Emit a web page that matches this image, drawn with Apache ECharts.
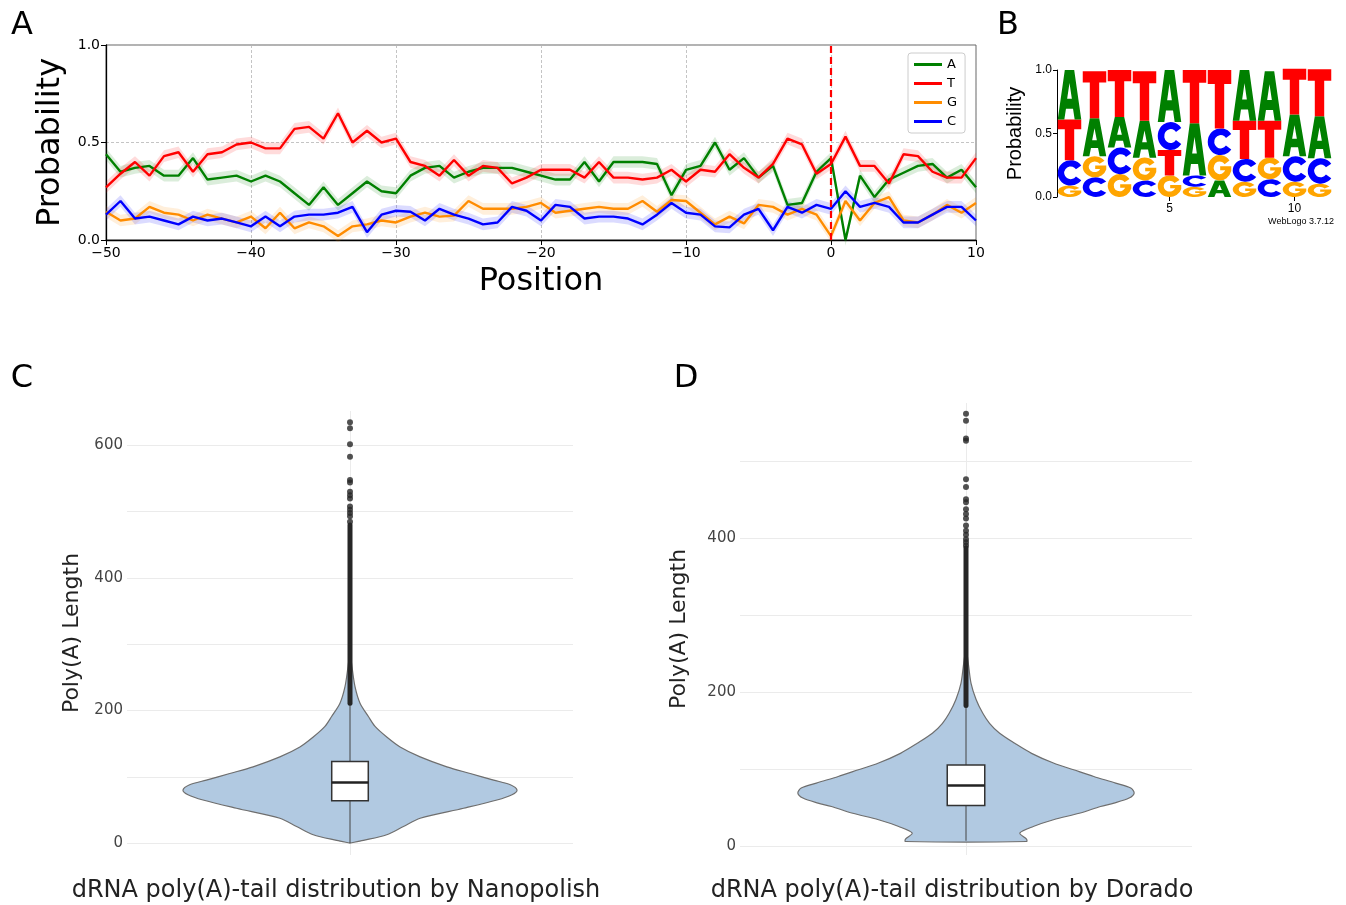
<!DOCTYPE html>
<html>
<head>
<meta charset="utf-8">
<script src="https://cdn.jsdelivr.net/npm/echarts@6/dist/echarts.min.js"></script>
<style>
html, body { margin: 0; padding: 0; background: #fff; }
#main { width: 1346px; height: 905px; }
</style>
</head>
<body>
<div id="main"></div>
<script>
// ---- panel A: per-position base probability (-50 .. 10) ----
var positions = [];
for (var p = -50; p <= 10; p++) positions.push(p);

var probA = [0.44, 0.35, 0.37, 0.38, 0.33, 0.33, 0.42, 0.31, 0.32, 0.33, 0.30, 0.33, 0.30, 0.24, 0.18, 0.27, 0.18, 0.24, 0.30, 0.25, 0.24,
             0.33, 0.37, 0.38, 0.32, 0.35, 0.37, 0.37, 0.37, 0.35, 0.33, 0.31, 0.31, 0.40, 0.30, 0.40, 0.40, 0.40, 0.39, 0.23, 0.36,
             0.38, 0.50, 0.36, 0.42, 0.32, 0.38, 0.18, 0.19, 0.35, 0.42, 0.00, 0.33, 0.22, 0.31, 0.345, 0.38, 0.39, 0.32, 0.36, 0.27];
var probT = [0.27, 0.34, 0.40, 0.33, 0.43, 0.45, 0.35, 0.44, 0.45, 0.49, 0.50, 0.47, 0.47, 0.57, 0.58, 0.52, 0.65, 0.50, 0.56, 0.50, 0.52,
             0.40, 0.38, 0.33, 0.41, 0.33, 0.38, 0.37, 0.29, 0.32, 0.36, 0.36, 0.36, 0.32, 0.40, 0.32, 0.32, 0.31, 0.32, 0.36, 0.30,
             0.36, 0.35, 0.44, 0.37, 0.32, 0.39, 0.52, 0.49, 0.34, 0.39, 0.53, 0.38, 0.38, 0.29, 0.44, 0.43, 0.35, 0.32, 0.32, 0.42];
var probG = [0.145, 0.10, 0.11, 0.17, 0.14, 0.13, 0.10, 0.13, 0.11, 0.09, 0.12, 0.06, 0.14, 0.06, 0.09, 0.07, 0.02, 0.07, 0.08, 0.10, 0.09,
             0.12, 0.14, 0.12, 0.125, 0.20, 0.16, 0.16, 0.16, 0.17, 0.19, 0.14, 0.15, 0.16, 0.17, 0.16, 0.16, 0.20, 0.145, 0.205, 0.20,
             0.14, 0.08, 0.12, 0.085, 0.18, 0.17, 0.13, 0.16, 0.13, 0.02, 0.20, 0.10, 0.19, 0.22, 0.10, 0.09, 0.13, 0.18, 0.14, 0.19];
var probC = [0.13, 0.20, 0.11, 0.12, 0.10, 0.08, 0.12, 0.10, 0.11, 0.09, 0.07, 0.12, 0.07, 0.12, 0.13, 0.13, 0.14, 0.17, 0.04, 0.13, 0.15,
             0.145, 0.10, 0.16, 0.13, 0.11, 0.08, 0.09, 0.17, 0.15, 0.10, 0.18, 0.17, 0.11, 0.12, 0.12, 0.11, 0.08, 0.13, 0.19, 0.14,
             0.13, 0.07, 0.065, 0.13, 0.16, 0.05, 0.17, 0.14, 0.18, 0.16, 0.25, 0.17, 0.19, 0.17, 0.09, 0.09, 0.13, 0.17, 0.17, 0.10];
var ciHalf = 0.03;

// ---- panel B: sequence logo ----
var logoPos = [1, 2, 3, 4, 5, 6, 7, 8, 9, 10, 11];
var logoA = [0.39, 0.30, 0.24, 0.29, 0.41, 0.41, 0.13, 0.40, 0.39, 0.33, 0.33];
var logoT = [0.32, 0.37, 0.37, 0.39, 0.20, 0.42, 0.46, 0.30, 0.29, 0.36, 0.37];
var logoG = [0.09, 0.165, 0.18, 0.18, 0.17, 0.08, 0.20, 0.12, 0.17, 0.12, 0.105];
var logoC = [0.20, 0.155, 0.21, 0.13, 0.22, 0.09, 0.21, 0.18, 0.14, 0.20, 0.20];

// ---- panels C / D: violin outlines (value, relative density) and box stats ----
var violinCValues  = [0, 4, 12.6, 25, 37.4, 52.5, 65, 73, 80, 88, 95, 105, 115, 130, 145, 160, 176, 191, 211, 236, 266, 290];
var violinCDensity = [0, 0.08, 0.22, 0.32, 0.42, 0.68, 0.88, 0.97, 1, 0.96, 0.86, 0.72, 0.58, 0.42, 0.30, 0.22, 0.15, 0.11, 0.06, 0.03, 0.012, 0];
var boxC = [0, 64, 91.5, 123, 211];          // low whisker, q1, median, q3, high whisker
var denseOutliersC = [211, 480];
var outliersC = [635, 626, 602, 583, 548, 544, 530, 525, 520, 508, 503, 498, 493, 485];

var violinDValues  = [5.5, 8.7, 16.4, 25, 33.8, 42.5, 51, 55.4, 62, 68.4, 75, 81.4, 90, 98.7, 107.4, 120, 133, 146, 159, 172, 190, 211, 233, 260];
var violinDDensity = [0.36, 0.36, 0.32, 0.40, 0.52, 0.68, 0.80, 0.88, 0.97, 1, 0.98, 0.89, 0.76, 0.64, 0.52, 0.39, 0.29, 0.20, 0.14, 0.10, 0.06, 0.03, 0.016, 0];
var boxD = [6.5, 52.4, 78.4, 105, 182];
var denseOutliersD = [182, 387];
var outliersD = [561, 552, 529, 526, 476, 466, 450, 446, 437, 431, 425, 416, 409, 404, 398, 394, 390];

var baseColors = { A: '#008000', T: '#ff0000', G: '#ff8c00', C: '#0000ff' };
var logoColors = { A: '#008000', T: '#ff0000', G: '#ffa500', C: '#0000ff' };
var glyphs = {
    A: 'M30,0 H70 L100,100 H72 L65,78 H35 L28,100 H0 Z M50,26 L40,58 H60 Z',
    T: 'M0,0 H100 V24 H70 V100 H30 V24 H0 Z',
    C: 'M90.96,21.32 A50,50 0 1,0 90.96,78.68 L70.48,64.34 A25,25 0 1,1 70.48,35.66 Z',
    G: 'M90.96,21.32 A50,50 0 1,0 98.3,62.94 V44 H52 V60 H72.9 A25,25 0 1,1 70.48,35.66 Z'
};

function pairs(vals) {
    return vals.map(function (v, i) { return [positions[i], v]; });
}

// shaded band around each probability line
function bandRenderer(vals, color) {
    return function (params, api) {
        var upper = [], lower = [];
        for (var i = 0; i < vals.length; i++) {
            upper.push(api.coord([positions[i], vals[i] + ciHalf]));
            lower.unshift(api.coord([positions[i], vals[i] - ciHalf]));
        }
        return {
            type: 'polygon',
            shape: { points: upper.concat(lower) },
            style: { fill: color, opacity: 0.14 }
        };
    };
}

// stacked letters: smallest at the bottom
var logoItems = [];
logoPos.forEach(function (pos, i) {
    var col = [['A', logoA[i]], ['T', logoT[i]], ['G', logoG[i]], ['C', logoC[i]]];
    col.sort(function (a, b) { return a[1] - b[1]; });
    var acc = 0;
    col.forEach(function (c) {
        logoItems.push([pos, acc, acc + c[1], c[0]]);
        acc += c[1];
    });
});

function logoRenderer(params, api) {
    var item = logoItems[params.dataIndex];
    var p0 = api.coord([item[0] - 0.47, item[2]]);
    var p1 = api.coord([item[0] + 0.47, item[1]]);
    return {
        type: 'path',
        shape: {
            pathData: glyphs[item[3]],
            x: p0[0], y: p0[1], width: p1[0] - p0[0], height: p1[1] - p0[1],
            layout: 'cover'
        },
        style: { fill: logoColors[item[3]] }
    };
}

function violinRenderer(vals, dens, box, dense, halfMax, boxHalf) {
    return function (params, api) {
        var right = [], left = [];
        for (var i = 0; i < vals.length; i++) {
            right.push(api.coord([dens[i] * halfMax, vals[i]]));
            left.unshift(api.coord([-dens[i] * halfMax, vals[i]]));
        }
        var lo = api.coord([0, box[0]]), hi = api.coord([0, box[4]]);
        var b1 = api.coord([-boxHalf, box[1]]), b3 = api.coord([boxHalf, box[3]]);
        var mL = api.coord([-boxHalf, box[2]]), mR = api.coord([boxHalf, box[2]]);
        var d0 = api.coord([0, dense[0]]), d1 = api.coord([0, dense[1]]);
        return {
            type: 'group',
            children: [
                { type: 'polygon', shape: { points: right.concat(left), smooth: 0.3 },
                  style: { fill: '#b1c9e1', stroke: '#6e6e6e', lineWidth: 1.2 } },
                { type: 'line', shape: { x1: lo[0], y1: lo[1], x2: hi[0], y2: hi[1] },
                  style: { stroke: '#444', lineWidth: 1 } },
                { type: 'rect', shape: { x: b1[0], y: b3[1], width: b3[0] - b1[0], height: b1[1] - b3[1] },
                  style: { fill: '#fff', stroke: '#333', lineWidth: 1.5 } },
                { type: 'line', shape: { x1: mL[0], y1: mL[1], x2: mR[0], y2: mR[1] },
                  style: { stroke: '#222', lineWidth: 2.5 } },
                { type: 'line', shape: { x1: d0[0], y1: d0[1], x2: d1[0], y2: d1[1] },
                  style: { stroke: '#262626', lineWidth: 5, lineCap: 'round' } }
            ]
        };
    };
}

var fontA = 'DejaVu Sans';
var minus = function (v) { return v < 0 ? '\u2212' + (-v) : String(v); };

function lineSeries(name, vals) {
    return {
        name: name, type: 'line', xAxisIndex: 0, yAxisIndex: 0,
        data: pairs(vals), showSymbol: false, z: 3,
        lineStyle: { color: baseColors[name], width: 2.4 },
        itemStyle: { color: baseColors[name] }
    };
}
function bandSeries(name, vals) {
    return {
        type: 'custom', xAxisIndex: 0, yAxisIndex: 0, z: 2, silent: true,
        data: [[0, 0]], renderItem: bandRenderer(vals, baseColors[name])
    };
}

var violinYAxis = function (gi, min, max, gap) {
    return {
        type: 'value', gridIndex: gi, min: min, max: max,
        axisLine: { show: false }, axisTick: { show: false },
        axisLabel: {
            fontSize: 15, color: '#444', fontFamily: fontA, margin: 4,
            formatter: function (v) { return (v >= 0 && v % 200 === 0) ? String(v) : ''; }
        },
        splitLine: { show: true, showMinLine: false, showMaxLine: false, lineStyle: { color: '#ebebeb', width: 1 } },
        name: 'Poly(A) Length', nameLocation: 'middle', nameGap: gap,
        nameTextStyle: { fontSize: 22, color: '#222', fontFamily: fontA }
    };
};
var violinXAxis = function (gi) {
    return {
        type: 'value', gridIndex: gi, min: -1, max: 1, interval: 1,
        axisLine: { show: false }, axisTick: { show: false }, axisLabel: { show: false },
        splitLine: { show: true, showMinLine: false, showMaxLine: false, lineStyle: { color: '#ebebeb', width: 1 } }
    };
};

var chart = echarts.init(document.getElementById('main'));
chart.setOption({
    animation: false,
    backgroundColor: '#fff',
    grid: [
        { left: 106, top: 45, width: 870, height: 195, show: true, borderColor: '#666', borderWidth: 1, backgroundColor: 'transparent' },
        { left: 1057, top: 70, width: 275, height: 127 },
        { left: 127, top: 411, width: 446, height: 444 },
        { left: 740, top: 403, width: 452, height: 452 }
    ],
    legend: {
        data: ['A', 'T', 'G', 'C'],
        orient: 'vertical', left: 908, top: 53,
        icon: 'rect', itemWidth: 28, itemHeight: 3, itemGap: 6,
        padding: [5, 8, 5, 6],
        backgroundColor: '#fff', borderColor: '#ccc', borderWidth: 1, borderRadius: 3,
        textStyle: { fontSize: 13, color: '#000', fontFamily: fontA }
    },
    xAxis: [
        {
            type: 'value', gridIndex: 0, min: -50, max: 10, interval: 10,
            axisLine: { onZero: false, lineStyle: { color: '#000', width: 1.3 } },
            axisTick: { length: 5, lineStyle: { color: '#000' } },
            axisLabel: { fontSize: 14, color: '#000', fontFamily: fontA, formatter: minus, margin: 6 },
            splitLine: { show: true, lineStyle: { color: '#b5b5b5', type: [3, 2], width: 0.8 } },
            name: 'Position', nameLocation: 'middle', nameGap: 26,
            nameTextStyle: { fontSize: 32, color: '#000', fontFamily: fontA }
        },
        {
            type: 'value', gridIndex: 1, min: 0.5, max: 11.5,
            axisLine: { show: false },
            axisTick: { show: true, customValues: [5, 10], length: 4, lineStyle: { color: '#000' } },
            axisLabel: { customValues: [5, 10], fontSize: 12, color: '#000', fontFamily: 'Liberation Sans', margin: 6 },
            splitLine: { show: false }
        },
        violinXAxis(2),
        violinXAxis(3)
    ],
    yAxis: [
        {
            type: 'value', gridIndex: 0, min: 0, max: 1, interval: 0.5,
            axisLine: { show: true, onZero: false, lineStyle: { color: '#000', width: 1.3 } },
            axisTick: { show: true, length: 5, lineStyle: { color: '#000' } },
            axisLabel: { fontSize: 14, color: '#000', fontFamily: fontA, formatter: function (v) { return v.toFixed(1); }, margin: 6 },
            splitLine: { show: true, lineStyle: { color: '#b5b5b5', type: [3, 2], width: 0.8 } },
            name: 'Probability', nameLocation: 'middle', nameGap: 38,
            nameTextStyle: { fontSize: 32, color: '#000', fontFamily: fontA }
        },
        {
            type: 'value', gridIndex: 1, min: 0, max: 1, interval: 0.5,
            axisLine: { show: true, onZero: false, lineStyle: { color: '#000', width: 1 } },
            axisTick: { show: true, length: 4, lineStyle: { color: '#000' } },
            axisLabel: { fontSize: 12, color: '#000', fontFamily: 'Liberation Sans', formatter: function (v) { return v.toFixed(1); }, margin: 5 },
            splitLine: { show: false },
            name: 'Probability', nameLocation: 'middle', nameGap: 32,
            nameTextStyle: { fontSize: 20, color: '#000', fontFamily: 'Liberation Sans' }
        },
        violinYAxis(2, -18, 652, 44),
        violinYAxis(3, -12, 575, 50)
    ],
    graphic: [
        { type: 'text', x: 22, y: 26, style: { text: 'A', font: '32px "DejaVu Sans"', fill: '#000', align: 'center', verticalAlign: 'middle' } },
        { type: 'text', x: 1008, y: 26, style: { text: 'B', font: '32px "DejaVu Sans"', fill: '#000', align: 'center', verticalAlign: 'middle' } },
        { type: 'text', x: 22, y: 379, style: { text: 'C', font: '32px "DejaVu Sans"', fill: '#000', align: 'center', verticalAlign: 'middle' } },
        { type: 'text', x: 686, y: 379, style: { text: 'D', font: '32px "DejaVu Sans"', fill: '#000', align: 'center', verticalAlign: 'middle' } },
        { type: 'text', x: 1334, y: 222, style: { text: 'WebLogo 3.7.12', font: '9px "Liberation Sans"', fill: '#000', align: 'right', verticalAlign: 'middle' } },
        { type: 'text', x: 336, y: 891, style: { text: 'dRNA poly(A)-tail distribution by Nanopolish', font: '24px "DejaVu Sans"', fill: '#222', align: 'center', verticalAlign: 'middle' } },
        { type: 'text', x: 952, y: 891, style: { text: 'dRNA poly(A)-tail distribution by Dorado', font: '24px "DejaVu Sans"', fill: '#222', align: 'center', verticalAlign: 'middle' } }
    ],
    series: [
        bandSeries('A', probA), bandSeries('T', probT), bandSeries('G', probG), bandSeries('C', probC),
        lineSeries('A', probA),
        Object.assign(lineSeries('T', probT), {
            markLine: {
                silent: true, symbol: 'none', label: { show: false },
                lineStyle: { color: '#ff0000', width: 2.2, type: [7, 4] },
                data: [{ xAxis: 0 }]
            }
        }),
        lineSeries('G', probG),
        lineSeries('C', probC),
        {
            type: 'custom', xAxisIndex: 1, yAxisIndex: 1, silent: true,
            data: logoItems.map(function (d) { return [d[0], d[2]]; }),
            renderItem: logoRenderer
        },
        {
            type: 'custom', xAxisIndex: 2, yAxisIndex: 2, silent: true, z: 2,
            data: [[0, 0]],
            renderItem: violinRenderer(violinCValues, violinCDensity, boxC, denseOutliersC, 0.749, 0.082)
        },
        {
            type: 'scatter', xAxisIndex: 2, yAxisIndex: 2, silent: true, z: 3,
            symbolSize: 6, itemStyle: { color: '#262626' },
            data: outliersC.map(function (v) { return [0, v]; })
        },
        {
            type: 'custom', xAxisIndex: 3, yAxisIndex: 3, silent: true, z: 2,
            data: [[0, 0]],
            renderItem: violinRenderer(violinDValues, violinDDensity, boxD, denseOutliersD, 0.744, 0.083)
        },
        {
            type: 'scatter', xAxisIndex: 3, yAxisIndex: 3, silent: true, z: 3,
            symbolSize: 6, itemStyle: { color: '#262626' },
            data: outliersD.map(function (v) { return [0, v]; })
        }
    ]
});
</script>
</body>
</html>
